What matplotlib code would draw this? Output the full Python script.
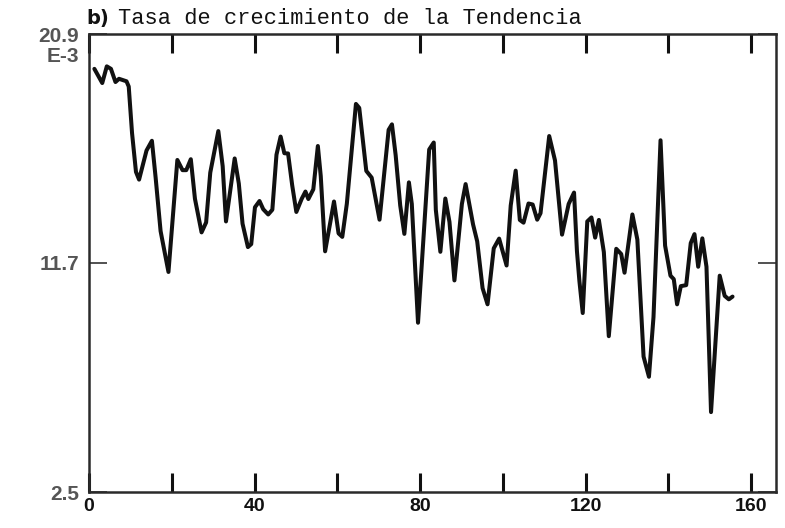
import matplotlib
matplotlib.use("Agg")
import matplotlib.pyplot as plt
import matplotlib.transforms as mtransforms

# Data (vertices of the trend growth-rate curve, units E-3)
t_vals = [1.3, 3.2, 4.3, 5.3, 6.4, 7.25, 9.06, 9.6, 10.4, 11.35,
          12.1, 13.9, 15.2, 16.1, 17.3, 19.2, 21.35, 22.6, 23.5, 24.6,
          25.6, 27.2, 28.3, 29.3, 31.25, 32.3, 33.1, 35.2, 36.2, 37.1,
          38.4, 39.2, 40.1, 41.2, 42.1, 43.3, 44.3, 45.3, 46.3, 47.2,
          48.1, 49.1, 50.1, 51.4, 52.3, 53.0, 54.2, 55.3, 56.0, 57.05,
          59.2, 60.3, 61.2, 62.3, 64.5, 65.3, 67.0, 68.3, 70.2, 72.4,
          73.2, 74.1, 75.2, 76.2, 77.3, 78.0, 79.5, 82.2, 83.3, 83.8,
          84.9, 86.1, 87.1, 88.3, 90.1, 91.0, 92.8, 93.8, 95.1, 96.3,
          97.8, 99.1, 100.9, 101.9, 103.1, 104.1, 105.0, 106.2, 107.2, 108.3,
          109.1, 111.2, 112.6, 114.3, 115.9, 117.2, 117.9, 118.5, 119.3, 120.4,
          121.4, 122.3, 123.2, 124.4, 125.6, 127.4, 128.6, 129.4, 131.3, 132.5,
          134.0, 135.3, 136.4, 138.1, 139.2, 140.5, 141.3, 142.1, 143.0, 144.3,
          145.4, 146.3, 147.2, 148.2, 149.2, 150.3, 152.4, 153.6, 154.6, 155.5]

rate_vals = [19.5, 18.93, 19.6, 19.5, 18.97, 19.1, 19.0, 18.79, 16.92, 15.36,
             15.05, 16.22, 16.61, 15.13, 12.98, 11.34, 15.84, 15.43, 15.43, 15.87,
             14.28, 12.93, 13.33, 15.33, 17.0, 15.59, 13.37, 15.9, 14.89, 13.28,
             12.34, 12.46, 13.94, 14.19, 13.86, 13.65, 13.84, 16.05, 16.78, 16.11,
             16.1, 14.82, 13.75, 14.28, 14.57, 14.27, 14.66, 16.4, 15.19, 12.17,
             14.17, 12.89, 12.75, 14.08, 18.09, 17.93, 15.4, 15.13, 13.44, 17.05,
             17.27, 16.03, 14.01, 12.87, 14.94, 14.07, 9.3, 16.26, 16.54, 13.84,
             12.15, 14.29, 13.35, 11.0, 14.07, 14.87, 13.25, 12.57, 10.69, 10.04,
             12.29, 12.68, 11.6, 14.01, 15.41, 13.43, 13.32, 14.09, 14.05, 13.44,
             13.7, 16.8, 15.82, 12.84, 14.07, 14.53, 12.18, 10.97, 9.69, 13.37,
             13.53, 12.72, 13.43, 12.14, 8.76, 12.27, 12.06, 11.31, 13.65, 12.64,
             7.94, 7.13, 9.53, 16.63, 12.4, 11.19, 11.05, 10.04, 10.77, 10.81,
             12.5, 12.86, 11.55, 12.69, 11.55, 5.71, 11.19, 10.38, 10.24, 10.35]

x_ticks = [0, 20, 40, 60, 80, 100, 120, 140, 160]
x_tick_labels = ["0", "", "40", "", "80", "", "120", "", "160"]
y_ticks = [2.5, 11.7, 20.9]
y_tick_labels = ["2.5", "11.7", "20.9"]
title_prefix = "b)"
title_text = "Tasa de crecimiento de la Tendencia"
exp_text = "E-3"

fig = plt.figure(figsize=(7.85, 5.28), dpi=100)
ax = fig.add_axes([89 / 785, 36 / 528, 687 / 785, 458 / 528])

ax.plot(t_vals, rate_vals, color="#111111", lw=2.9,
        solid_joinstyle="round", solid_capstyle="round")

ax.set_xlim(0, 166)
ax.set_ylim(2.5, 20.9)

for s in ax.spines.values():
    s.set_linewidth(1.8)
    s.set_color("#2a2a2a")

ax.set_xticks(x_ticks)
ax.set_xticklabels(x_tick_labels, fontsize=14, fontweight="bold",
                   family="Liberation Sans", color="#111111")
ax.tick_params(axis="x", direction="in", length=14, width=2.2, color="#111111",
               top=True, bottom=True, pad=4)

ax.set_yticks(y_ticks)
ax.set_yticklabels(y_tick_labels, fontsize=15, fontweight="bold",
                   family="Liberation Sans", color="#555555")
ax.tick_params(axis="y", direction="in", length=13, width=1.1, color="#222222",
               left=True, right=True, pad=7)

# exponent label under the top value
offset = mtransforms.ScaledTranslation(-7 / 72, -22 / 100, fig.dpi_scale_trans)
ax.text(0, 20.9, exp_text, transform=ax.get_yaxis_transform() + offset,
        ha="right", va="center", fontsize=15, fontweight="bold",
        family="Liberation Sans", color="#555555")

fig.text(86 / 785, 1 - 24 / 528, title_prefix, fontsize=14, fontweight="bold",
         family="DejaVu Sans", color="#111111", va="baseline", ha="left")
fig.text(118 / 785, 1 - 24 / 528, title_text, fontsize=15.8,
         family="Liberation Mono", color="#111111", va="baseline", ha="left")

fig.savefig("out.png", dpi=100, facecolor="white")
